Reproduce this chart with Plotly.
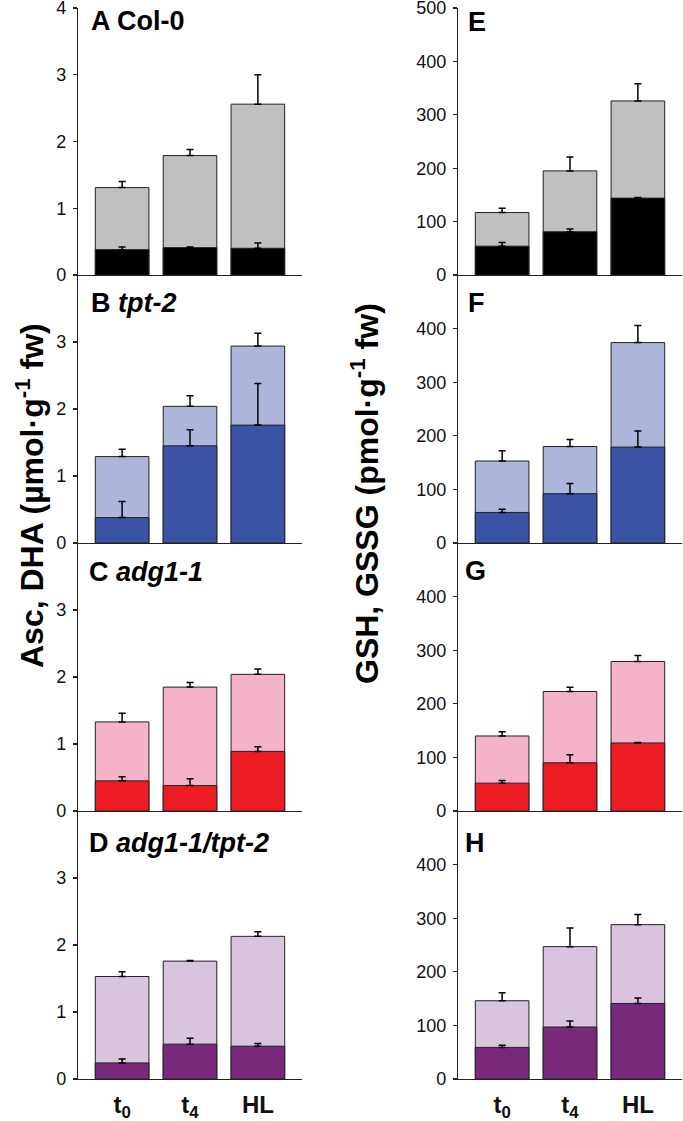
import plotly.graph_objects as go

# ---------------- data ----------------
categories = [0, 1, 2]
tick_labels = ["<b>t<sub>0</sub></b>", "<b>t<sub>4</sub></b>", "<b>HL</b>"]

# Asc + DHA (umol g-1 fw): total (light) and reduced part (dark)
asc_col0_total = [1.31, 1.79, 2.56]
asc_col0_total_err = [0.09, 0.09, 0.44]
asc_col0_dark = [0.38, 0.41, 0.40]
asc_col0_dark_err = [0.04, 0.01, 0.08]

asc_tpt_total = [1.29, 2.04, 2.94]
asc_tpt_total_err = [0.11, 0.16, 0.19]
asc_tpt_dark = [0.38, 1.45, 1.76]
asc_tpt_dark_err = [0.24, 0.24, 0.62]

asc_adg_total = [1.33, 1.85, 2.04]
asc_adg_total_err = [0.13, 0.07, 0.08]
asc_adg_dark = [0.45, 0.38, 0.89]
asc_adg_dark_err = [0.06, 0.10, 0.07]

asc_dbl_total = [1.53, 1.76, 2.13]
asc_dbl_total_err = [0.07, 0.01, 0.07]
asc_dbl_dark = [0.24, 0.52, 0.49]
asc_dbl_dark_err = [0.06, 0.09, 0.04]

# GSH + GSSG (pmol g-1 fw)
gsh_col0_total = [117, 195, 326]
gsh_col0_total_err = [8, 26, 32]
gsh_col0_dark = [54, 81, 144]
gsh_col0_dark_err = [7, 5, 1]

gsh_tpt_total = [153, 180, 374]
gsh_tpt_total_err = [19, 13, 32]
gsh_tpt_dark = [57, 92, 179]
gsh_tpt_dark_err = [6, 19, 30]

gsh_adg_total = [140, 223, 279]
gsh_adg_total_err = [8, 8, 11]
gsh_adg_dark = [52, 90, 127]
gsh_adg_dark_err = [5, 15, 1]

gsh_dbl_total = [146, 247, 288]
gsh_dbl_total_err = [15, 35, 19]
gsh_dbl_dark = [59, 97, 141]
gsh_dbl_dark_err = [4, 11, 10]

panel_labels = ["<b>A Col-0</b>", "<b>B <i>tpt-2</i></b>", "<b>C <i>adg1-1</i></b>",
                "<b>D <i>adg1-1/tpt-2</i></b>", "<b>E</b>", "<b>F</b>", "<b>G</b>", "<b>H</b>"]

light_colors = ["#c0c0c0", "#adb5db", "#f5b3cb", "#d8c4df"]
dark_colors = ["#000000", "#3a53a4", "#ec1c24", "#79297c"]

# ---------------- layout geometry ----------------
W, H = 683, 1121
left_x = [78 / W, 302 / W]
right_x = [458 / W, 682 / W]
rows_px = [(8, 275), (275, 543), (543, 811), (811, 1079)]


def ydom(top, bot):
    return [1 - bot / H, 1 - top / H]


panels = [
    (asc_col0_total, asc_col0_total_err, asc_col0_dark, asc_col0_dark_err),
    (asc_tpt_total, asc_tpt_total_err, asc_tpt_dark, asc_tpt_dark_err),
    (asc_adg_total, asc_adg_total_err, asc_adg_dark, asc_adg_dark_err),
    (asc_dbl_total, asc_dbl_total_err, asc_dbl_dark, asc_dbl_dark_err),
    (gsh_col0_total, gsh_col0_total_err, gsh_col0_dark, gsh_col0_dark_err),
    (gsh_tpt_total, gsh_tpt_total_err, gsh_tpt_dark, gsh_tpt_dark_err),
    (gsh_adg_total, gsh_adg_total_err, gsh_adg_dark, gsh_adg_dark_err),
    (gsh_dbl_total, gsh_dbl_total_err, gsh_dbl_dark, gsh_dbl_dark_err),
]

FONT = "Arial, Liberation Sans, sans-serif"
AXC = "#222222"

fig = go.Figure()
layout = dict(
    width=W, height=H,
    margin=dict(l=0, r=0, t=0, b=0, pad=0, autoexpand=False),
    paper_bgcolor="white", plot_bgcolor="white",
    showlegend=False, barmode="overlay",
    font=dict(family=FONT, color="#111111"),
)

label_pos = [(89, 21), (89, 303), (87, 572), (87, 843),
             (466, 22), (466, 303), (463, 571), (463, 843)]

annotations = []
for i, (tot, tot_e, dk, dk_e) in enumerate(panels):
    col = 0 if i < 4 else 1
    row = i % 4
    n = i + 1
    xa = "x" if n == 1 else f"x{n}"
    ya = "y" if n == 1 else f"y{n}"
    for vals, errs, color in ((tot, tot_e, light_colors[row]), (dk, dk_e, dark_colors[row])):
        fig.add_trace(go.Bar(
            x=categories, y=vals, width=0.79,
            marker=dict(color=color, line=dict(color="#222222", width=1)),
            error_y=dict(type="data", array=errs, arrayminus=[0] * len(errs), symmetric=False,
                         color="black", thickness=1.5, width=3.5),
            xaxis=xa, yaxis=ya, hoverinfo="skip",
        ))
    xkey = "xaxis" if n == 1 else f"xaxis{n}"
    ykey = "yaxis" if n == 1 else f"yaxis{n}"
    layout[xkey] = dict(
        domain=left_x if col == 0 else right_x,
        anchor=ya, range=[-0.65, 2.65], automargin=False,
        showline=True, linecolor=AXC, linewidth=1.2,
        showgrid=False, zeroline=False, ticks="",
        tickmode="array", tickvals=categories, ticktext=tick_labels,
        showticklabels=(row == 3),
        tickfont=dict(size=24, family=FONT, color="#111111"),
        ticklabelstandoff=4,
    )
    if col == 0:
        yrange = [0, 4.001]
        yticks = [0, 1, 2, 3, 4] if row == 0 else [0, 1, 2, 3]
    else:
        yrange = [0, 500.1]
        yticks = [0, 100, 200, 300, 400, 500] if row == 0 else [0, 100, 200, 300, 400]
    layout[ykey] = dict(
        domain=ydom(*rows_px[row]), anchor=xa, range=yrange, automargin=False,
        showline=True, linecolor=AXC, linewidth=1.2,
        showgrid=False, zeroline=False,
        ticks="outside", ticklen=4, tickcolor=AXC, tickwidth=1.2,
        tickmode="array", tickvals=yticks,
        tickfont=dict(size=18, family=FONT, color="#111111"),
        ticklabelstandoff=3, ticklabeloverflow="allow",
    )
    lx, ly = label_pos[i]
    annotations.append(dict(
        text=panel_labels[i], x=lx / W, y=1 - ly / H, xref="paper", yref="paper",
        xanchor="left", yanchor="middle", showarrow=False,
        font=dict(size=27, family=FONT, color="#000000"),
    ))

annotations.append(dict(
    text="<b>Asc, DHA (µmol·g<sup>-1</sup> fw)</b>", x=30 / W, y=1 - 496 / H,
    xref="paper", yref="paper", xanchor="center", yanchor="middle",
    textangle=-90, showarrow=False, font=dict(size=32, family=FONT, color="#000000"),
))
annotations.append(dict(
    text="<b>GSH, GSSG (pmol·g<sup>-1</sup> fw)</b>", x=365 / W, y=1 - 494 / H,
    xref="paper", yref="paper", xanchor="center", yanchor="middle",
    textangle=-90, showarrow=False, font=dict(size=32, family=FONT, color="#000000"),
))
layout["annotations"] = annotations

fig.update_layout(**layout)
fig.write_html(
    "out.html",
    config={"displayModeBar": False, "staticPlot": True},
    post_script="document.body.style.margin='0';document.body.style.padding='0';"
                "document.documentElement.style.overflow='hidden';",
)
